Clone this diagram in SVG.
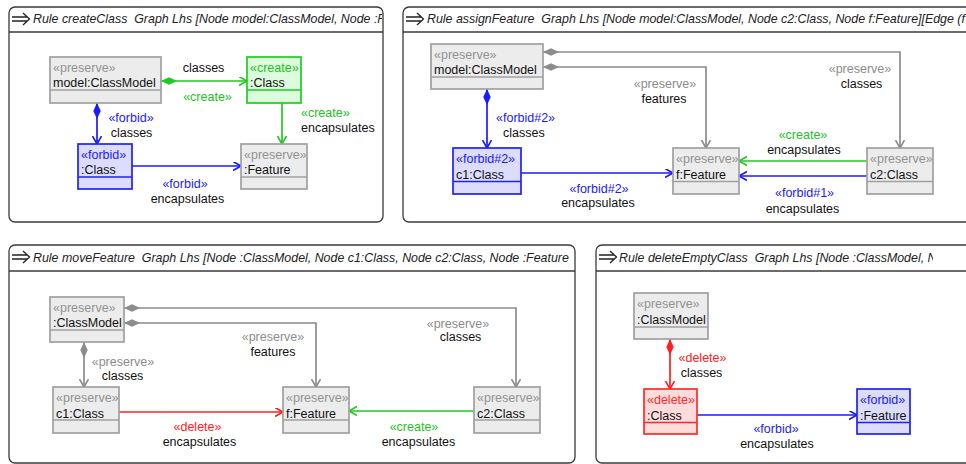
<svg xmlns="http://www.w3.org/2000/svg" width="966" height="464" viewBox="0 0 966 464">
<style>
.frame{fill:#fff;stroke:#3a3a3a;stroke-width:1.3}
.hdr{stroke:#3a3a3a;stroke-width:1.3}
.icon{fill:none;stroke:#222;stroke-width:1.3}
.title{font-family:"Liberation Sans",Arial,sans-serif;font-style:italic;font-size:12.4px;fill:#222;white-space:pre}
text{font-family:"Liberation Sans",Arial,sans-serif;font-size:12.5px;fill:#111}
.box{stroke-width:1.7}
.sep{stroke-width:1.3}
.pres .box{fill:#ececec;stroke:#a0a0a0}
.pres .sep{stroke:#a0a0a0}
.pres .st{fill:#929292}
.cre .box{fill:#ddfcdd;stroke:#22cc22}
.cre .sep{stroke:#22cc22}
.cre .st{fill:#22c322}
.forb .box{fill:#dcdcfc;stroke:#2020ff}
.forb .sep{stroke:#2020ff}
.forb .st{fill:#2020ff}
.del .box{fill:#ffdcdc;stroke:#ff2a2a}
.del .sep{stroke:#ff2a2a}
.del .st{fill:#ff2a2a}
.e{fill:none;stroke-width:1.7}
.eg{stroke:#8c8c8c}
.eb{stroke:#1a1aff}
.en{stroke:#22c822}
.er{stroke:#ff2020}
.lg{fill:#8c8c8c}
.lb{fill:#1a1aff}
.ln{fill:#22c322}
.lr{fill:#ff2020}
.m{text-anchor:middle}
</style>
<defs>
<marker id="ag" markerUnits="userSpaceOnUse" markerWidth="12" markerHeight="12" refX="8" refY="4.5" orient="auto"><path d="M0,0 L8,4.5 L0,9" fill="none" stroke="#8c8c8c" stroke-width="1.6"/></marker>
<marker id="ab" markerUnits="userSpaceOnUse" markerWidth="12" markerHeight="12" refX="8" refY="4.5" orient="auto"><path d="M0,0 L8,4.5 L0,9" fill="none" stroke="#1a1aff" stroke-width="1.6"/></marker>
<marker id="an" markerUnits="userSpaceOnUse" markerWidth="12" markerHeight="12" refX="8" refY="4.5" orient="auto"><path d="M0,0 L8,4.5 L0,9" fill="none" stroke="#22c822" stroke-width="1.6"/></marker>
<marker id="ar" markerUnits="userSpaceOnUse" markerWidth="12" markerHeight="12" refX="8" refY="4.5" orient="auto"><path d="M0,0 L8,4.5 L0,9" fill="none" stroke="#ff2020" stroke-width="1.6"/></marker>
<marker id="dg" markerUnits="userSpaceOnUse" markerWidth="18" markerHeight="9" refX="0" refY="3.7" orient="auto"><path d="M0,3.7 L8,0 L16,3.7 L8,7.4 Z" fill="#8c8c8c"/></marker>
<marker id="db" markerUnits="userSpaceOnUse" markerWidth="18" markerHeight="9" refX="0" refY="3.7" orient="auto"><path d="M0,3.7 L8,0 L16,3.7 L8,7.4 Z" fill="#1a1aff"/></marker>
<marker id="dn" markerUnits="userSpaceOnUse" markerWidth="18" markerHeight="9" refX="0" refY="3.7" orient="auto"><path d="M0,3.7 L8,0 L16,3.7 L8,7.4 Z" fill="#22c822"/></marker>
<marker id="dr" markerUnits="userSpaceOnUse" markerWidth="18" markerHeight="9" refX="0" refY="3.7" orient="auto"><path d="M0,3.7 L8,0 L16,3.7 L8,7.4 Z" fill="#ff2020"/></marker>
<clipPath id="c1"><rect x="9" y="7" width="373" height="25"/></clipPath>
<clipPath id="c2"><rect x="403" y="7" width="563" height="25"/></clipPath>
<clipPath id="c3"><rect x="9" y="245" width="560" height="26"/></clipPath>
<clipPath id="c4"><rect x="596" y="245" width="337" height="26"/></clipPath>
</defs>

<!-- Panels -->
<g id="panel-createClass">
<rect class="frame" x="9" y="7" width="374" height="215" rx="6"/>
<line class="hdr" x1="9" y1="32" x2="383" y2="32"/>
<path class="icon" d="M12,17 H27 M12,21 H27 M23,13 L29.5,19 L23,25"/>
<text class="title" x="33" y="23" clip-path="url(#c1)">Rule createClass  Graph Lhs [Node model:ClassModel, Node :F</text>
</g>
<g id="panel-assignFeature">
<rect class="frame" x="403" y="7" width="600" height="215" rx="6"/>
<line class="hdr" x1="403" y1="32" x2="966" y2="32"/>
<path class="icon" d="M406,17 H421 M406,21 H421 M417,13 L423.5,19 L417,25"/>
<text class="title" x="427" y="23" clip-path="url(#c2)">Rule assignFeature  Graph Lhs [Node model:ClassModel, Node c2:Class, Node f:Feature][Edge (f</text>
</g>
<g id="panel-moveFeature">
<rect class="frame" x="9" y="245" width="566" height="218" rx="6"/>
<line class="hdr" x1="9" y1="271" x2="575" y2="271"/>
<path class="icon" d="M12,255 H27 M12,259 H27 M23,251 L29.5,257 L23,263"/>
<text class="title" x="33" y="262" clip-path="url(#c3)">Rule moveFeature  Graph Lhs [Node :ClassModel, Node c1:Class, Node c2:Class, Node :Feature,</text>
</g>
<g id="panel-deleteEmptyClass">
<rect class="frame" x="596" y="245" width="420" height="218" rx="6"/>
<line class="hdr" x1="596" y1="271" x2="966" y2="271"/>
<path class="icon" d="M599,255 H614 M599,259 H614 M610,251 L616.5,257 L610,263"/>
<text class="title" x="619" y="262" clip-path="url(#c4)">Rule deleteEmptyClass  Graph Lhs [Node :ClassModel, N</text>
</g>

<!-- Connectors -->
<g id="connectors">
<!-- P1 -->
<path class="e en" d="M161,81 H247" marker-start="url(#dn)" marker-end="url(#an)"/>
<path class="e eb" d="M97,103 V144" marker-start="url(#db)" marker-end="url(#ab)"/>
<path class="e en" d="M282,103 V144" marker-end="url(#an)"/>
<path class="e eb" d="M132,166 H241" marker-end="url(#ab)"/>
<text x="203.5" y="72" class="m">classes</text>
<text x="207.5" y="100.5" class="m ln">«create»</text>
<text x="131" y="122" class="m lb">«forbid»</text>
<text x="131.5" y="137" class="m">classes</text>
<text x="301" y="116.5" class="ln">«create»</text>
<text x="301" y="131.5">encapsulates</text>
<text x="185" y="187.5" class="m lb">«forbid»</text>
<text x="187.5" y="202.5" class="m">encapsulates</text>
<!-- P2 -->
<path class="e eb" d="M487,89 V148" marker-start="url(#db)" marker-end="url(#ab)"/>
<path class="e eg" d="M543,52 H900 V148" marker-start="url(#dg)" marker-end="url(#ag)"/>
<path class="e eg" d="M543,67 H706 V148" marker-start="url(#dg)" marker-end="url(#ag)"/>
<path class="e eb" d="M521,173 H673" marker-end="url(#ab)"/>
<path class="e en" d="M867,161 H739" marker-end="url(#an)"/>
<path class="e eb" d="M867,176 H739" marker-end="url(#ab)"/>
<text x="496" y="121.5" class="lb">«forbid#2»</text>
<text x="503" y="137">classes</text>
<text x="665" y="87.5" class="m lg">«preserve»</text>
<text x="664" y="102.5" class="m">features</text>
<text x="860" y="72.5" class="m lg">«preserve»</text>
<text x="861.5" y="87.5" class="m">classes</text>
<text x="803" y="139" class="m ln">«create»</text>
<text x="804" y="154" class="m">encapsulates</text>
<text x="804.5" y="197" class="m lb">«forbid#1»</text>
<text x="802.5" y="212.5" class="m">encapsulates</text>
<text x="599" y="192.5" class="m lb">«forbid#2»</text>
<text x="598" y="207" class="m">encapsulates</text>
<!-- P3 -->
<path class="e eg" d="M84,342 V387" marker-start="url(#dg)" marker-end="url(#ag)"/>
<path class="e eg" d="M124,308 H516 V387" marker-start="url(#dg)" marker-end="url(#ag)"/>
<path class="e eg" d="M124,323 H316 V387" marker-start="url(#dg)" marker-end="url(#ag)"/>
<path class="e er" d="M119,412 H283" marker-end="url(#ar)"/>
<path class="e en" d="M474,411 H349" marker-end="url(#an)"/>
<text x="123" y="366" class="m lg">«preserve»</text>
<text x="122.5" y="380" class="m">classes</text>
<text x="273" y="340.5" class="m lg">«preserve»</text>
<text x="273" y="355.5" class="m">features</text>
<text x="458" y="327.5" class="m lg">«preserve»</text>
<text x="460.5" y="341" class="m">classes</text>
<text x="197.5" y="431" class="m lr">«delete»</text>
<text x="199.5" y="446" class="m">encapsulates</text>
<text x="414" y="431" class="m ln">«create»</text>
<text x="418.5" y="446" class="m">encapsulates</text>
<!-- P4 -->
<path class="e er" d="M670,339 V389" marker-start="url(#dr)" marker-end="url(#ar)"/>
<path class="e eb" d="M697,415 H857" marker-end="url(#ab)"/>
<text x="702.5" y="362" class="m lr">«delete»</text>
<text x="701.5" y="377" class="m">classes</text>
<text x="776" y="433" class="m lb">«forbid»</text>
<text x="777" y="447.5" class="m">encapsulates</text>
</g>

<!-- Nodes: Panel 1 -->
<g id="p1-model" class="pres"><rect class="box" x="50" y="57" width="111" height="46"/><line class="sep" x1="50" y1="90" x2="161" y2="90"/><text class="st" x="53" y="72">«preserve»</text><text x="53" y="87">model:ClassModel</text></g>
<g id="p1-class-create" class="cre"><rect class="box" x="247" y="57" width="54" height="46"/><line class="sep" x1="247" y1="90" x2="301" y2="90"/><text class="st" x="250" y="72">«create»</text><text x="250" y="87">:Class</text></g>
<g id="p1-class-forbid" class="forb"><rect class="box" x="78" y="144" width="54" height="45"/><line class="sep" x1="78" y1="177" x2="132" y2="177"/><text class="st" x="81" y="159">«forbid»</text><text x="81" y="174">:Class</text></g>
<g id="p1-feature" class="pres"><rect class="box" x="241" y="144" width="66" height="45"/><line class="sep" x1="241" y1="177" x2="307" y2="177"/><text class="st" x="244" y="159">«preserve»</text><text x="244" y="174">:Feature</text></g>

<!-- Nodes: Panel 2 -->
<g id="p2-model" class="pres"><rect class="box" x="431" y="44" width="112" height="45"/><line class="sep" x1="431" y1="77" x2="543" y2="77"/><text class="st" x="434" y="59">«preserve»</text><text x="434" y="74">model:ClassModel</text></g>
<g id="p2-c1" class="forb"><rect class="box" x="453" y="148" width="68" height="46"/><line class="sep" x1="453" y1="181.5" x2="521" y2="181.5"/><text class="st" x="456" y="163">«forbid#2»</text><text x="456" y="178.5">c1:Class</text></g>
<g id="p2-f" class="pres"><rect class="box" x="673" y="148" width="66" height="46"/><line class="sep" x1="673" y1="181.5" x2="739" y2="181.5"/><text class="st" x="676" y="163">«preserve»</text><text x="676" y="178.5">f:Feature</text></g>
<g id="p2-c2" class="pres"><rect class="box" x="867" y="148" width="66" height="46"/><line class="sep" x1="867" y1="181.5" x2="933" y2="181.5"/><text class="st" x="870" y="163">«preserve»</text><text x="870" y="178.5">c2:Class</text></g>

<!-- Nodes: Panel 3 -->
<g id="p3-model" class="pres"><rect class="box" x="50" y="297" width="74" height="45"/><line class="sep" x1="50" y1="330" x2="124" y2="330"/><text class="st" x="53" y="312">«preserve»</text><text x="53" y="327">:ClassModel</text></g>
<g id="p3-c1" class="pres"><rect class="box" x="53" y="387" width="66" height="46"/><line class="sep" x1="53" y1="420" x2="119" y2="420"/><text class="st" x="56" y="402">«preserve»</text><text x="56" y="417.5">c1:Class</text></g>
<g id="p3-f" class="pres"><rect class="box" x="283" y="387" width="66" height="46"/><line class="sep" x1="283" y1="420" x2="349" y2="420"/><text class="st" x="286" y="402">«preserve»</text><text x="286" y="417.5">f:Feature</text></g>
<g id="p3-c2" class="pres"><rect class="box" x="474" y="387" width="66" height="46"/><line class="sep" x1="474" y1="420" x2="540" y2="420"/><text class="st" x="477" y="402">«preserve»</text><text x="477" y="417.5">c2:Class</text></g>

<!-- Nodes: Panel 4 -->
<g id="p4-model" class="pres"><rect class="box" x="634" y="293" width="74" height="46"/><line class="sep" x1="634" y1="327" x2="708" y2="327"/><text class="st" x="637" y="308">«preserve»</text><text x="637" y="323.5">:ClassModel</text></g>
<g id="p4-class" class="del"><rect class="box" x="644" y="389" width="53" height="45"/><line class="sep" x1="644" y1="422.5" x2="697" y2="422.5"/><text class="st" x="647" y="404">«delete»</text><text x="647" y="419.5">:Class</text></g>
<g id="p4-feature" class="forb"><rect class="box" x="857" y="389" width="53" height="45"/><line class="sep" x1="857" y1="422.5" x2="910" y2="422.5"/><text class="st" x="860" y="404">«forbid»</text><text x="860" y="419.5">:Feature</text></g>
</svg>
